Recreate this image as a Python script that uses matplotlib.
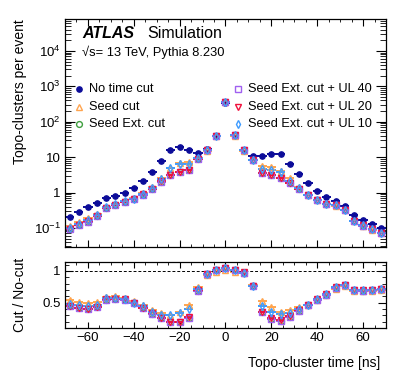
import numpy as np
import matplotlib
matplotlib.use('Agg')
import matplotlib.pyplot as plt
from matplotlib.ticker import FixedLocator, MultipleLocator, FuncFormatter, NullFormatter

plt.rcParams['font.family'] = ['Liberation Sans', 'DejaVu Sans']
plt.rcParams['mathtext.fontset'] = 'custom'
plt.rcParams['mathtext.rm'] = 'Liberation Sans'
plt.rcParams['mathtext.it'] = 'Liberation Sans:italic'
plt.rcParams['mathtext.bf'] = 'Liberation Sans:bold'

# bin centres [ns], width 4 ns
t = np.arange(-68, 69, 4)

# no time cut, topo-clusters per event
nocut = [0.21, 0.29, 0.38, 0.50, 0.68, 0.81, 1.0, 1.35, 2.1, 3.9, 7.9, 16, 20, 16, 13, 16.5, 39,
         350, 41, 16, 11, 10.5, 12.6, 12, 6.6, 3.3, 1.87, 1.14, 0.76, 0.59, 0.41, 0.23, 0.17, 0.13, 0.10]

# ratios cut / no-cut
r_seed = [0.54, 0.51, 0.495, 0.51, 0.59, 0.60, 0.58, 0.52, 0.46, 0.38, 0.33, 0.31, 0.35, 0.46, 0.74, 0.93, 0.99,
          1.01, 0.99, 0.96, 0.77, 0.53, 0.43, 0.35, 0.38, 0.43, 0.46, 0.54, 0.62, 0.72, 0.76, 0.69, 0.68, 0.69, 0.70]
r_ext = [0.44, 0.41, 0.40, 0.425, 0.545, 0.555, 0.545, 0.49, 0.415, 0.325, 0.255, 0.19, 0.19, 0.265, 0.69, 0.945, 1.01,
         1.045, 1.01, 0.97, 0.755, 0.345, 0.245, 0.215, 0.28, 0.375, 0.455, 0.545, 0.625, 0.735, 0.77, 0.70, 0.69, 0.70, 0.715]
r_ul40 = [0.44, 0.41, 0.40, 0.425, 0.545, 0.555, 0.545, 0.49, 0.415, 0.325, 0.255, 0.19, 0.19, 0.265, 0.69, 0.945, 1.01,
          1.045, 1.01, 0.97, 0.755, 0.345, 0.245, 0.215, 0.28, 0.375, 0.455, 0.545, 0.625, 0.735, 0.77, 0.70, 0.69, 0.70, 0.715]
r_ul20 = [0.45, 0.416, 0.405, 0.43, 0.55, 0.56, 0.55, 0.495, 0.42, 0.33, 0.26, 0.195, 0.195, 0.27, 0.695, 0.95, 1.01,
          1.05, 1.01, 0.975, 0.76, 0.35, 0.25, 0.22, 0.285, 0.38, 0.46, 0.55, 0.63, 0.74, 0.775, 0.705, 0.695, 0.705, 0.72]
r_ul10 = [0.485, 0.46, 0.45, 0.47, 0.57, 0.58, 0.56, 0.50, 0.44, 0.35, 0.31, 0.30, 0.33, 0.40, 0.71, 0.95, 1.01,
          1.04, 1.01, 0.97, 0.76, 0.44, 0.35, 0.315, 0.33, 0.40, 0.46, 0.55, 0.63, 0.74, 0.775, 0.705, 0.695, 0.705, 0.72]

labels = ['No time cut', 'Seed cut', 'Seed Ext. cut',
          'Seed Ext. cut + UL 40', 'Seed Ext. cut + UL 20', 'Seed Ext. cut + UL 10']
ratios = [None, r_seed, r_ext, r_ul40, r_ul20, r_ul10]
colors = ['#0c0c99', '#ffa54f', '#3f9f3f', '#a060f0', '#f0103c', '#3d9bff']
markers = ['o', '^', 'o', 's', 'v', 'd']
fills = [True, False, False, False, False, False]
msizes = [3.8, 4.2, 4.2, 4.0, 4.2, 3.6]

fig = plt.figure(figsize=(4.07, 3.91), dpi=100)
ax = fig.add_axes([0.1597, 0.3683, 0.7887, 0.5831])
rax = fig.add_axes([0.1597, 0.1611, 0.7887, 0.1688])

nocut = np.array(nocut)
for i in range(6):
    if ratios[i] is None:
        y = nocut
    else:
        y = nocut * np.array(ratios[i])
    mfc = colors[i] if fills[i] else 'none'
    ax.errorbar(t, y, xerr=2, fmt=markers[i], color=colors[i], mfc=mfc, mec=colors[i],
                ms=msizes[i], mew=1.0, elinewidth=1.4, capsize=0)
    if ratios[i] is not None:
        rax.errorbar(t, ratios[i], xerr=2, fmt=markers[i], color=colors[i], mfc=mfc, mec=colors[i],
                     ms=msizes[i], mew=1.0, elinewidth=1.4, capsize=0)

rax.axhline(1, color='black', ls=(0, (3, 2)), lw=0.7)

ax.set_yscale('log')
ax.set_xlim(-70, 70)
ax.set_ylim(0.029, 8e4)
rax.set_xlim(-70, 70)
rax.set_ylim(0.1, 1.14)


def logfmt(v, pos):
    e = int(round(np.log10(v)))
    if e == 0:
        return '1'
    if e == 1:
        return '10'
    return r'$10^{%d}$' % e


decades = [0.1, 1, 10, 100, 1e3, 1e4]
minors = [m * d for d in [0.01] + decades for m in range(2, 10)]
minors = [v for v in minors if 0.029 <= v <= 8e4]
ax.yaxis.set_major_locator(FixedLocator(decades))
ax.yaxis.set_minor_locator(FixedLocator(minors))
ax.yaxis.set_major_formatter(FuncFormatter(logfmt))
ax.yaxis.set_minor_formatter(NullFormatter())
for a in (ax, rax):
    a.xaxis.set_major_locator(MultipleLocator(20))
    a.xaxis.set_minor_locator(MultipleLocator(5))
    a.tick_params(which='both', direction='in', top=True, right=True, labelsize=9.5, pad=3)
    a.tick_params(axis='x', which='major', length=4.7)
    a.tick_params(axis='x', which='minor', length=2.3)
    for s in a.spines.values():
        s.set_linewidth(0.9)
ax.tick_params(axis='y', which='major', length=7)
ax.tick_params(axis='y', which='minor', length=4)
ax.tick_params(axis='x', labelbottom=False)
rax.yaxis.set_major_locator(FixedLocator([0.5, 1]))
rax.yaxis.set_minor_locator(MultipleLocator(0.1))
rax.yaxis.set_major_formatter(FuncFormatter(lambda v, p: '%g' % v))
rax.tick_params(axis='y', which='major', length=6)
rax.tick_params(axis='y', which='minor', length=3)
rax.tick_params(axis='x', which='major', length=4)

ax.set_ylabel('Topo-clusters per event', fontsize=10, loc='top')
ax.yaxis.set_label_coords(-0.118, 1.0)
rax.set_ylabel('Cut / No-cut', fontsize=10)
rax.yaxis.set_label_coords(-0.118, 0.5)
rax.set_xlabel('Topo-cluster time [ns]', fontsize=10, loc='right')
rax.xaxis.set_label_coords(0.981, -0.42)

ax.text(0.053, 0.917, 'ATLAS', transform=ax.transAxes, fontsize=11.5, fontweight='bold',
        fontstyle='italic', va='baseline')
ax.text(0.255, 0.917, 'Simulation', transform=ax.transAxes, fontsize=11.5, va='baseline')
ax.text(0.053, 0.838, '√s= 13 TeV, Pythia 8.230', transform=ax.transAxes, fontsize=9.3, va='baseline')

# legend, two columns
leg_x = [0.044, 0.539]
leg_y = [0.693, 0.616, 0.539]
for i in range(6):
    col = i // 3
    row = i % 3
    mfc = colors[i] if fills[i] else 'none'
    ax.plot([leg_x[col]], [leg_y[row]], marker=markers[i], color=colors[i], mfc=mfc, mec=colors[i],
            ms=msizes[i], mew=1.0, ls='none', transform=ax.transAxes)
    ax.text(leg_x[col] + 0.031, leg_y[row], labels[i], transform=ax.transAxes, fontsize=9.2,
            va='center')

fig.savefig('out.png', dpi=100)
